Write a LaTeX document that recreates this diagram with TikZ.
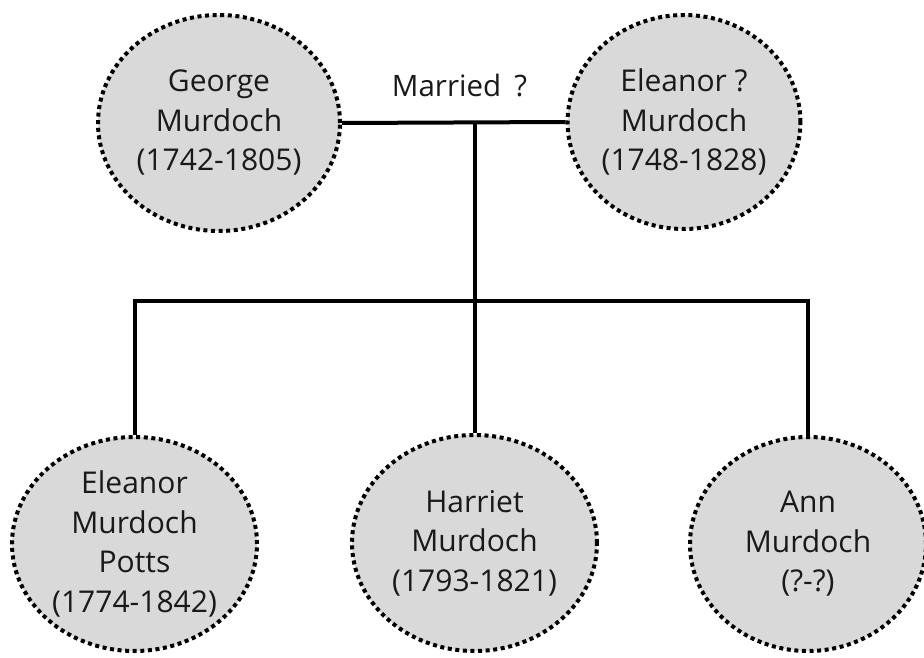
\documentclass[tikz,border=0pt]{standalone}
\usepackage{fontspec}
\setmainfont{Open Sans}
\usetikzlibrary{shapes.geometric}

\definecolor{personfill}{HTML}{D9D9D9}

\tikzset{
  person/.style={
    ellipse, fill=personfill, draw=black,
    line width=4pt, dash pattern=on 4pt off 3.6pt,
    inner sep=0pt, align=center,
    font=\fontsize{30}{39.5}\selectfont, text=black!90
  },
  link/.style={line width=4pt, draw=black}
}

\begin{document}
\begin{tikzpicture}[x=1pt, y=-1pt]
  \useasboundingbox (0,0) rectangle (924,658);

  % parents
  \node[person, minimum width=242pt, minimum height=216pt] (george) at (219,123)
    {George\\Murdoch\\(1742-1805)};
  \node[person, minimum width=228pt, minimum height=214pt] (eleanor) at (684,122)
    {Eleanor ?\\Murdoch\\(1748-1828)};

  % children
  \node[person, minimum width=245pt, minimum height=214pt] (potts) at (134.5,544)
    {Eleanor\\Murdoch\\Potts\\(1774-1842)};
  \node[person, minimum width=245pt, minimum height=216pt] (harriet) at (474.5,543)
    {Harriet\\Murdoch\\(1793-1821)};
  \node[person, minimum width=236pt, minimum height=214pt] (ann) at (808,544)
    {Ann\\Murdoch\\(?-?)};

  % marriage label
  \node[anchor=base, inner sep=0pt, font=\fontsize{29.5}{34}\selectfont, text=black!90]
    (marriedlbl) at (459.5,97) {Married\hspace{0.45em}?};

  % junction points of the family tree
  \coordinate (marr) at (harriet.north |- eleanor.west);
  \coordinate (bus) at (harriet.north |- 0,301);

  % connectors
  \draw[link] (george.east) -- (eleanor.west);
  \draw[link] (marr) -- (bus);
  \draw[link] (potts.north) |- (bus) -| (ann.north);
  \draw[link] (bus) -- (harriet.north);
\end{tikzpicture}
\end{document}
